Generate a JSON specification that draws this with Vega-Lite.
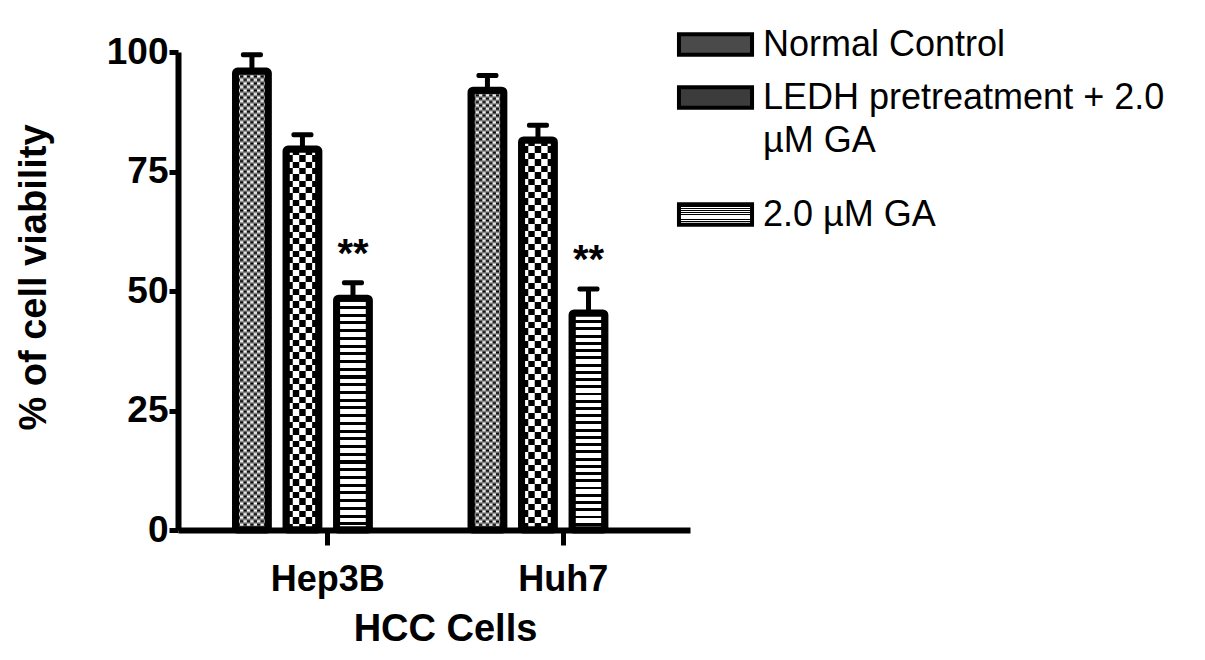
{
  "$schema": "https://vega.github.io/schema/vega-lite/v6.json",
  "width": 512,
  "height": 478,
  "autosize": {"type": "none"},
  "padding": {"left": 178, "top": 52, "right": 515, "bottom": 130},
  "background": "white",
  "config": {"view": {"stroke": null}, "font": "Liberation Sans"},
  "params": [
    {"name": "ncP", "value": {"gradient": "linear", "x1": 0, "y1": 0, "x2": 0, "y2": 1, "stops": [
        {"offset": 0.0038, "color": "#000"}, {"offset": 0.0115, "color": "#fff"}, {"offset": 0.0192, "color": "#000"}, {"offset": 0.0269, "color": "#fff"},
        {"offset": 0.0346, "color": "#000"}, {"offset": 0.0423, "color": "#fff"}, {"offset": 0.05, "color": "#000"}, {"offset": 0.0577, "color": "#fff"},
        {"offset": 0.0654, "color": "#000"}, {"offset": 0.0731, "color": "#fff"}, {"offset": 0.0808, "color": "#000"}, {"offset": 0.0885, "color": "#fff"},
        {"offset": 0.0962, "color": "#000"}, {"offset": 0.1038, "color": "#fff"}, {"offset": 0.1115, "color": "#000"}, {"offset": 0.1192, "color": "#fff"},
        {"offset": 0.1269, "color": "#000"}, {"offset": 0.1346, "color": "#fff"}, {"offset": 0.1423, "color": "#000"}, {"offset": 0.15, "color": "#fff"},
        {"offset": 0.1577, "color": "#000"}, {"offset": 0.1654, "color": "#fff"}, {"offset": 0.1731, "color": "#000"}, {"offset": 0.1808, "color": "#fff"},
        {"offset": 0.1885, "color": "#000"}, {"offset": 0.1962, "color": "#fff"}, {"offset": 0.2038, "color": "#000"}, {"offset": 0.2115, "color": "#fff"},
        {"offset": 0.2192, "color": "#000"}, {"offset": 0.2269, "color": "#fff"}, {"offset": 0.2346, "color": "#000"}, {"offset": 0.2423, "color": "#fff"},
        {"offset": 0.25, "color": "#000"}, {"offset": 0.2577, "color": "#fff"}, {"offset": 0.2654, "color": "#000"}, {"offset": 0.2731, "color": "#fff"},
        {"offset": 0.2808, "color": "#000"}, {"offset": 0.2885, "color": "#fff"}, {"offset": 0.2962, "color": "#000"}, {"offset": 0.3038, "color": "#fff"},
        {"offset": 0.3115, "color": "#000"}, {"offset": 0.3192, "color": "#fff"}, {"offset": 0.3269, "color": "#000"}, {"offset": 0.3346, "color": "#fff"},
        {"offset": 0.3423, "color": "#000"}, {"offset": 0.35, "color": "#fff"}, {"offset": 0.3577, "color": "#000"}, {"offset": 0.3654, "color": "#fff"},
        {"offset": 0.3731, "color": "#000"}, {"offset": 0.3808, "color": "#fff"}, {"offset": 0.3885, "color": "#000"}, {"offset": 0.3962, "color": "#fff"},
        {"offset": 0.4038, "color": "#000"}, {"offset": 0.4115, "color": "#fff"}, {"offset": 0.4192, "color": "#000"}, {"offset": 0.4269, "color": "#fff"},
        {"offset": 0.4346, "color": "#000"}, {"offset": 0.4423, "color": "#fff"}, {"offset": 0.45, "color": "#000"}, {"offset": 0.4577, "color": "#fff"},
        {"offset": 0.4654, "color": "#000"}, {"offset": 0.4731, "color": "#fff"}, {"offset": 0.4808, "color": "#000"}, {"offset": 0.4885, "color": "#fff"},
        {"offset": 0.4962, "color": "#000"}, {"offset": 0.5038, "color": "#fff"}, {"offset": 0.5115, "color": "#000"}, {"offset": 0.5192, "color": "#fff"},
        {"offset": 0.5269, "color": "#000"}, {"offset": 0.5346, "color": "#fff"}, {"offset": 0.5423, "color": "#000"}, {"offset": 0.55, "color": "#fff"},
        {"offset": 0.5577, "color": "#000"}, {"offset": 0.5654, "color": "#fff"}, {"offset": 0.5731, "color": "#000"}, {"offset": 0.5808, "color": "#fff"},
        {"offset": 0.5885, "color": "#000"}, {"offset": 0.5962, "color": "#fff"}, {"offset": 0.6038, "color": "#000"}, {"offset": 0.6115, "color": "#fff"},
        {"offset": 0.6192, "color": "#000"}, {"offset": 0.6269, "color": "#fff"}, {"offset": 0.6346, "color": "#000"}, {"offset": 0.6423, "color": "#fff"},
        {"offset": 0.65, "color": "#000"}, {"offset": 0.6577, "color": "#fff"}, {"offset": 0.6654, "color": "#000"}, {"offset": 0.6731, "color": "#fff"},
        {"offset": 0.6808, "color": "#000"}, {"offset": 0.6885, "color": "#fff"}, {"offset": 0.6962, "color": "#000"}, {"offset": 0.7038, "color": "#fff"},
        {"offset": 0.7115, "color": "#000"}, {"offset": 0.7192, "color": "#fff"}, {"offset": 0.7269, "color": "#000"}, {"offset": 0.7346, "color": "#fff"},
        {"offset": 0.7423, "color": "#000"}, {"offset": 0.75, "color": "#fff"}, {"offset": 0.7577, "color": "#000"}, {"offset": 0.7654, "color": "#fff"},
        {"offset": 0.7731, "color": "#000"}, {"offset": 0.7808, "color": "#fff"}, {"offset": 0.7885, "color": "#000"}, {"offset": 0.7962, "color": "#fff"},
        {"offset": 0.8038, "color": "#000"}, {"offset": 0.8115, "color": "#fff"}, {"offset": 0.8192, "color": "#000"}, {"offset": 0.8269, "color": "#fff"},
        {"offset": 0.8346, "color": "#000"}, {"offset": 0.8423, "color": "#fff"}, {"offset": 0.85, "color": "#000"}, {"offset": 0.8577, "color": "#fff"},
        {"offset": 0.8654, "color": "#000"}, {"offset": 0.8731, "color": "#fff"}, {"offset": 0.8808, "color": "#000"}, {"offset": 0.8885, "color": "#fff"},
        {"offset": 0.8962, "color": "#000"}, {"offset": 0.9038, "color": "#fff"}, {"offset": 0.9115, "color": "#000"}, {"offset": 0.9192, "color": "#fff"},
        {"offset": 0.9269, "color": "#000"}, {"offset": 0.9346, "color": "#fff"}, {"offset": 0.9423, "color": "#000"}, {"offset": 0.95, "color": "#fff"},
        {"offset": 0.9577, "color": "#000"}, {"offset": 0.9654, "color": "#fff"}, {"offset": 0.9731, "color": "#000"}, {"offset": 0.9808, "color": "#fff"},
        {"offset": 0.9885, "color": "#000"}, {"offset": 0.9962, "color": "#fff"}
    ]}},
    {"name": "ncN", "value": {"gradient": "linear", "x1": 0, "y1": 0, "x2": 0, "y2": 1, "stops": [
        {"offset": 0.0038, "color": "#fff"}, {"offset": 0.0115, "color": "#000"}, {"offset": 0.0192, "color": "#fff"}, {"offset": 0.0269, "color": "#000"},
        {"offset": 0.0346, "color": "#fff"}, {"offset": 0.0423, "color": "#000"}, {"offset": 0.05, "color": "#fff"}, {"offset": 0.0577, "color": "#000"},
        {"offset": 0.0654, "color": "#fff"}, {"offset": 0.0731, "color": "#000"}, {"offset": 0.0808, "color": "#fff"}, {"offset": 0.0885, "color": "#000"},
        {"offset": 0.0962, "color": "#fff"}, {"offset": 0.1038, "color": "#000"}, {"offset": 0.1115, "color": "#fff"}, {"offset": 0.1192, "color": "#000"},
        {"offset": 0.1269, "color": "#fff"}, {"offset": 0.1346, "color": "#000"}, {"offset": 0.1423, "color": "#fff"}, {"offset": 0.15, "color": "#000"},
        {"offset": 0.1577, "color": "#fff"}, {"offset": 0.1654, "color": "#000"}, {"offset": 0.1731, "color": "#fff"}, {"offset": 0.1808, "color": "#000"},
        {"offset": 0.1885, "color": "#fff"}, {"offset": 0.1962, "color": "#000"}, {"offset": 0.2038, "color": "#fff"}, {"offset": 0.2115, "color": "#000"},
        {"offset": 0.2192, "color": "#fff"}, {"offset": 0.2269, "color": "#000"}, {"offset": 0.2346, "color": "#fff"}, {"offset": 0.2423, "color": "#000"},
        {"offset": 0.25, "color": "#fff"}, {"offset": 0.2577, "color": "#000"}, {"offset": 0.2654, "color": "#fff"}, {"offset": 0.2731, "color": "#000"},
        {"offset": 0.2808, "color": "#fff"}, {"offset": 0.2885, "color": "#000"}, {"offset": 0.2962, "color": "#fff"}, {"offset": 0.3038, "color": "#000"},
        {"offset": 0.3115, "color": "#fff"}, {"offset": 0.3192, "color": "#000"}, {"offset": 0.3269, "color": "#fff"}, {"offset": 0.3346, "color": "#000"},
        {"offset": 0.3423, "color": "#fff"}, {"offset": 0.35, "color": "#000"}, {"offset": 0.3577, "color": "#fff"}, {"offset": 0.3654, "color": "#000"},
        {"offset": 0.3731, "color": "#fff"}, {"offset": 0.3808, "color": "#000"}, {"offset": 0.3885, "color": "#fff"}, {"offset": 0.3962, "color": "#000"},
        {"offset": 0.4038, "color": "#fff"}, {"offset": 0.4115, "color": "#000"}, {"offset": 0.4192, "color": "#fff"}, {"offset": 0.4269, "color": "#000"},
        {"offset": 0.4346, "color": "#fff"}, {"offset": 0.4423, "color": "#000"}, {"offset": 0.45, "color": "#fff"}, {"offset": 0.4577, "color": "#000"},
        {"offset": 0.4654, "color": "#fff"}, {"offset": 0.4731, "color": "#000"}, {"offset": 0.4808, "color": "#fff"}, {"offset": 0.4885, "color": "#000"},
        {"offset": 0.4962, "color": "#fff"}, {"offset": 0.5038, "color": "#000"}, {"offset": 0.5115, "color": "#fff"}, {"offset": 0.5192, "color": "#000"},
        {"offset": 0.5269, "color": "#fff"}, {"offset": 0.5346, "color": "#000"}, {"offset": 0.5423, "color": "#fff"}, {"offset": 0.55, "color": "#000"},
        {"offset": 0.5577, "color": "#fff"}, {"offset": 0.5654, "color": "#000"}, {"offset": 0.5731, "color": "#fff"}, {"offset": 0.5808, "color": "#000"},
        {"offset": 0.5885, "color": "#fff"}, {"offset": 0.5962, "color": "#000"}, {"offset": 0.6038, "color": "#fff"}, {"offset": 0.6115, "color": "#000"},
        {"offset": 0.6192, "color": "#fff"}, {"offset": 0.6269, "color": "#000"}, {"offset": 0.6346, "color": "#fff"}, {"offset": 0.6423, "color": "#000"},
        {"offset": 0.65, "color": "#fff"}, {"offset": 0.6577, "color": "#000"}, {"offset": 0.6654, "color": "#fff"}, {"offset": 0.6731, "color": "#000"},
        {"offset": 0.6808, "color": "#fff"}, {"offset": 0.6885, "color": "#000"}, {"offset": 0.6962, "color": "#fff"}, {"offset": 0.7038, "color": "#000"},
        {"offset": 0.7115, "color": "#fff"}, {"offset": 0.7192, "color": "#000"}, {"offset": 0.7269, "color": "#fff"}, {"offset": 0.7346, "color": "#000"},
        {"offset": 0.7423, "color": "#fff"}, {"offset": 0.75, "color": "#000"}, {"offset": 0.7577, "color": "#fff"}, {"offset": 0.7654, "color": "#000"},
        {"offset": 0.7731, "color": "#fff"}, {"offset": 0.7808, "color": "#000"}, {"offset": 0.7885, "color": "#fff"}, {"offset": 0.7962, "color": "#000"},
        {"offset": 0.8038, "color": "#fff"}, {"offset": 0.8115, "color": "#000"}, {"offset": 0.8192, "color": "#fff"}, {"offset": 0.8269, "color": "#000"},
        {"offset": 0.8346, "color": "#fff"}, {"offset": 0.8423, "color": "#000"}, {"offset": 0.85, "color": "#fff"}, {"offset": 0.8577, "color": "#000"},
        {"offset": 0.8654, "color": "#fff"}, {"offset": 0.8731, "color": "#000"}, {"offset": 0.8808, "color": "#fff"}, {"offset": 0.8885, "color": "#000"},
        {"offset": 0.8962, "color": "#fff"}, {"offset": 0.9038, "color": "#000"}, {"offset": 0.9115, "color": "#fff"}, {"offset": 0.9192, "color": "#000"},
        {"offset": 0.9269, "color": "#fff"}, {"offset": 0.9346, "color": "#000"}, {"offset": 0.9423, "color": "#fff"}, {"offset": 0.95, "color": "#000"},
        {"offset": 0.9577, "color": "#fff"}, {"offset": 0.9654, "color": "#000"}, {"offset": 0.9731, "color": "#fff"}, {"offset": 0.9808, "color": "#000"},
        {"offset": 0.9885, "color": "#fff"}, {"offset": 0.9962, "color": "#000"}
    ]}}
  ],
  "data": {
    "values": [
      {"cell": "Hep3B", "treatment": "Normal Control", "mean": 96.0, "upper": 99.4, "star": ""},
      {"cell": "Hep3B", "treatment": "LEDH pretreatment + 2.0 µM GA", "mean": 79.7, "upper": 82.7, "star": ""},
      {"cell": "Hep3B", "treatment": "2.0 µM GA", "mean": 48.5, "upper": 51.7, "star": "**"},
      {"cell": "Huh7", "treatment": "Normal Control", "mean": 92.0, "upper": 95.1, "star": ""},
      {"cell": "Huh7", "treatment": "LEDH pretreatment + 2.0 µM GA", "mean": 81.6, "upper": 84.7, "star": ""},
      {"cell": "Huh7", "treatment": "2.0 µM GA", "mean": 45.4, "upper": 50.4, "star": "**"}
    ]
  },
  "encoding": {
    "x": {
      "field": "cell", "type": "nominal", "sort": ["Hep3B", "Huh7"],
      "scale": {"paddingInner": 0.142, "paddingOuter": 0.158, "align": 0.654},
      "axis": {
        "title": "HCC Cells", "labelAngle": 0, "domainWidth": 6, "domainColor": "black",
        "tickWidth": 5, "tickSize": 15, "tickColor": "black",
        "labelFontSize": 36, "labelFontWeight": "bold", "labelColor": "black", "labelPadding": 17,
        "titleFontSize": 38, "titleFontWeight": "bold", "titleColor": "black", "titlePadding": 13, "titleX": 267
      }
    },
    "xOffset": {
      "field": "treatment", "type": "nominal",
      "scale": {"domain": ["Normal Control", "LEDH pretreatment + 2.0 µM GA", "2.0 µM GA", "pad"], "paddingInner": 0.35, "paddingOuter": 0.175}
    }
  },
  "layer": [
    {
      "mark": {"type": "bar", "cornerRadius": 2},
      "encoding": {
        "y": {
          "field": "mean", "type": "quantitative", "scale": {"domain": [0, 100]},
          "axis": {
            "title": "% of cell viability", "values": [0, 25, 50, 75, 100], "grid": false,
            "domainWidth": 6, "domainColor": "black", "tickColor": "black", "tickWidth": 5, "tickSize": 9,
            "labelFontSize": 37, "labelFontWeight": "bold", "labelColor": "black", "labelPadding": 1,
            "titleFontSize": 38, "titleFontWeight": "bold", "titleColor": "black", "titlePadding": 53, "titleY": 225
          }
        },
        "fill": {
          "field": "treatment", "type": "nominal",
          "scale": {"domain": ["Normal Control", "LEDH pretreatment + 2.0 µM GA", "2.0 µM GA"], "range": ["#4a4a4a", "#3c3c3c", "#000000"]},
          "legend": {
            "title": null, "orient": "none", "legendX": 515, "legendY": -30, "padding": 0,
            "values": ["Normal Control", "LEDH pretreatment + 2.0 µM GA"],
            "symbolType": "M-1.8,-0.5H1.8V0.5H-1.8Z", "symbolSize": 1648,
            "symbolStrokeColor": "black", "symbolStrokeWidth": 4, "symbolOpacity": 1,
            "labelFontSize": 36, "labelFont": "Liberation Sans", "labelColor": "black",
            "labelOffset": 25, "rowPadding": 12, "labelLimit": 700,
            "labelExpr": "datum.label === 'LEDH pretreatment + 2.0 µM GA' ? ['LEDH pretreatment + 2.0', 'µM GA'] : datum.label",
            "encode": {
              "labels": {"update": {"lineHeight": {"value": 43}}},
              "symbols": {"update": {"stroke": {"value": "black"}, "strokeWidth": {"value": 4}}}
            }
          }
        }
      }
    },
    {
      "transform": [{"filter": "datum.treatment === 'Normal Control'"}],
      "mark": {"type": "bar", "fill": "#858585"},
      "encoding": {"y": {"field": "mean", "type": "quantitative"}}
    },
    {
      "transform": [{"filter": "datum.treatment === 'Normal Control'"}],
      "mark": {"type": "bar", "fill": {"expr": "ncP"}},
      "encoding": {"y": {"field": "mean", "type": "quantitative"}}
    },
    {
      "transform": [{"filter": "datum.treatment === 'Normal Control'"}],
      "mark": {"type": "bar", "fill": {"expr": "ncN"}, "width": 23.8},
      "encoding": {"y": {"field": "mean", "type": "quantitative"}}
    },
    {
      "transform": [{"filter": "datum.treatment === 'Normal Control'"}],
      "mark": {"type": "bar", "fill": {"expr": "ncP"}, "width": 17},
      "encoding": {"y": {"field": "mean", "type": "quantitative"}}
    },
    {
      "transform": [{"filter": "datum.treatment === 'Normal Control'"}],
      "mark": {"type": "bar", "fill": {"expr": "ncN"}, "width": 10.2},
      "encoding": {"y": {"field": "mean", "type": "quantitative"}}
    },
    {
      "transform": [{"filter": "datum.treatment === 'Normal Control'"}],
      "mark": {"type": "bar", "fill": {"expr": "ncP"}, "width": 3.4},
      "encoding": {"y": {"field": "mean", "type": "quantitative"}}
    },
    {
      "transform": [{"filter": "datum.treatment === 'LEDH pretreatment + 2.0 µM GA'"}],
      "mark": {
        "type": "bar",
        "fill": {"gradient": "linear", "x1": 0, "y1": 0, "x2": 0, "y2": 1, "stops": [
          {"offset": 0, "color": "#fff"}, {"offset": 0.0167, "color": "#fff"}, {"offset": 0.0167, "color": "#000"}, {"offset": 0.0333, "color": "#000"},
          {"offset": 0.0333, "color": "#fff"}, {"offset": 0.05, "color": "#fff"}, {"offset": 0.05, "color": "#000"}, {"offset": 0.0667, "color": "#000"},
          {"offset": 0.0667, "color": "#fff"}, {"offset": 0.0833, "color": "#fff"}, {"offset": 0.0833, "color": "#000"}, {"offset": 0.1, "color": "#000"},
          {"offset": 0.1, "color": "#fff"}, {"offset": 0.1167, "color": "#fff"}, {"offset": 0.1167, "color": "#000"}, {"offset": 0.1333, "color": "#000"},
          {"offset": 0.1333, "color": "#fff"}, {"offset": 0.15, "color": "#fff"}, {"offset": 0.15, "color": "#000"}, {"offset": 0.1667, "color": "#000"},
          {"offset": 0.1667, "color": "#fff"}, {"offset": 0.1833, "color": "#fff"}, {"offset": 0.1833, "color": "#000"}, {"offset": 0.2, "color": "#000"},
          {"offset": 0.2, "color": "#fff"}, {"offset": 0.2167, "color": "#fff"}, {"offset": 0.2167, "color": "#000"}, {"offset": 0.2333, "color": "#000"},
          {"offset": 0.2333, "color": "#fff"}, {"offset": 0.25, "color": "#fff"}, {"offset": 0.25, "color": "#000"}, {"offset": 0.2667, "color": "#000"},
          {"offset": 0.2667, "color": "#fff"}, {"offset": 0.2833, "color": "#fff"}, {"offset": 0.2833, "color": "#000"}, {"offset": 0.3, "color": "#000"},
          {"offset": 0.3, "color": "#fff"}, {"offset": 0.3167, "color": "#fff"}, {"offset": 0.3167, "color": "#000"}, {"offset": 0.3333, "color": "#000"},
          {"offset": 0.3333, "color": "#fff"}, {"offset": 0.35, "color": "#fff"}, {"offset": 0.35, "color": "#000"}, {"offset": 0.3667, "color": "#000"},
          {"offset": 0.3667, "color": "#fff"}, {"offset": 0.3833, "color": "#fff"}, {"offset": 0.3833, "color": "#000"}, {"offset": 0.4, "color": "#000"},
          {"offset": 0.4, "color": "#fff"}, {"offset": 0.4167, "color": "#fff"}, {"offset": 0.4167, "color": "#000"}, {"offset": 0.4333, "color": "#000"},
          {"offset": 0.4333, "color": "#fff"}, {"offset": 0.45, "color": "#fff"}, {"offset": 0.45, "color": "#000"}, {"offset": 0.4667, "color": "#000"},
          {"offset": 0.4667, "color": "#fff"}, {"offset": 0.4833, "color": "#fff"}, {"offset": 0.4833, "color": "#000"}, {"offset": 0.5, "color": "#000"},
          {"offset": 0.5, "color": "#fff"}, {"offset": 0.5167, "color": "#fff"}, {"offset": 0.5167, "color": "#000"}, {"offset": 0.5333, "color": "#000"},
          {"offset": 0.5333, "color": "#fff"}, {"offset": 0.55, "color": "#fff"}, {"offset": 0.55, "color": "#000"}, {"offset": 0.5667, "color": "#000"},
          {"offset": 0.5667, "color": "#fff"}, {"offset": 0.5833, "color": "#fff"}, {"offset": 0.5833, "color": "#000"}, {"offset": 0.6, "color": "#000"},
          {"offset": 0.6, "color": "#fff"}, {"offset": 0.6167, "color": "#fff"}, {"offset": 0.6167, "color": "#000"}, {"offset": 0.6333, "color": "#000"},
          {"offset": 0.6333, "color": "#fff"}, {"offset": 0.65, "color": "#fff"}, {"offset": 0.65, "color": "#000"}, {"offset": 0.6667, "color": "#000"},
          {"offset": 0.6667, "color": "#fff"}, {"offset": 0.6833, "color": "#fff"}, {"offset": 0.6833, "color": "#000"}, {"offset": 0.7, "color": "#000"},
          {"offset": 0.7, "color": "#fff"}, {"offset": 0.7167, "color": "#fff"}, {"offset": 0.7167, "color": "#000"}, {"offset": 0.7333, "color": "#000"},
          {"offset": 0.7333, "color": "#fff"}, {"offset": 0.75, "color": "#fff"}, {"offset": 0.75, "color": "#000"}, {"offset": 0.7667, "color": "#000"},
          {"offset": 0.7667, "color": "#fff"}, {"offset": 0.7833, "color": "#fff"}, {"offset": 0.7833, "color": "#000"}, {"offset": 0.8, "color": "#000"},
          {"offset": 0.8, "color": "#fff"}, {"offset": 0.8167, "color": "#fff"}, {"offset": 0.8167, "color": "#000"}, {"offset": 0.8333, "color": "#000"},
          {"offset": 0.8333, "color": "#fff"}, {"offset": 0.85, "color": "#fff"}, {"offset": 0.85, "color": "#000"}, {"offset": 0.8667, "color": "#000"},
          {"offset": 0.8667, "color": "#fff"}, {"offset": 0.8833, "color": "#fff"}, {"offset": 0.8833, "color": "#000"}, {"offset": 0.9, "color": "#000"},
          {"offset": 0.9, "color": "#fff"}, {"offset": 0.9167, "color": "#fff"}, {"offset": 0.9167, "color": "#000"}, {"offset": 0.9333, "color": "#000"},
          {"offset": 0.9333, "color": "#fff"}, {"offset": 0.95, "color": "#fff"}, {"offset": 0.95, "color": "#000"}, {"offset": 0.9667, "color": "#000"},
          {"offset": 0.9667, "color": "#fff"}, {"offset": 0.9833, "color": "#fff"}, {"offset": 0.9833, "color": "#000"}, {"offset": 1, "color": "#000"}
        ]}
      },
      "encoding": {"y": {"field": "mean", "type": "quantitative"}}
    },
    {
      "transform": [{"filter": "datum.treatment === 'LEDH pretreatment + 2.0 µM GA'"}],
      "mark": {
        "type": "bar", "width": 19.35,
        "fill": {"gradient": "linear", "x1": 0, "y1": 0, "x2": 0, "y2": 1, "stops": [
          {"offset": 0, "color": "#000"}, {"offset": 0.0167, "color": "#000"}, {"offset": 0.0167, "color": "#fff"}, {"offset": 0.0333, "color": "#fff"},
          {"offset": 0.0333, "color": "#000"}, {"offset": 0.05, "color": "#000"}, {"offset": 0.05, "color": "#fff"}, {"offset": 0.0667, "color": "#fff"},
          {"offset": 0.0667, "color": "#000"}, {"offset": 0.0833, "color": "#000"}, {"offset": 0.0833, "color": "#fff"}, {"offset": 0.1, "color": "#fff"},
          {"offset": 0.1, "color": "#000"}, {"offset": 0.1167, "color": "#000"}, {"offset": 0.1167, "color": "#fff"}, {"offset": 0.1333, "color": "#fff"},
          {"offset": 0.1333, "color": "#000"}, {"offset": 0.15, "color": "#000"}, {"offset": 0.15, "color": "#fff"}, {"offset": 0.1667, "color": "#fff"},
          {"offset": 0.1667, "color": "#000"}, {"offset": 0.1833, "color": "#000"}, {"offset": 0.1833, "color": "#fff"}, {"offset": 0.2, "color": "#fff"},
          {"offset": 0.2, "color": "#000"}, {"offset": 0.2167, "color": "#000"}, {"offset": 0.2167, "color": "#fff"}, {"offset": 0.2333, "color": "#fff"},
          {"offset": 0.2333, "color": "#000"}, {"offset": 0.25, "color": "#000"}, {"offset": 0.25, "color": "#fff"}, {"offset": 0.2667, "color": "#fff"},
          {"offset": 0.2667, "color": "#000"}, {"offset": 0.2833, "color": "#000"}, {"offset": 0.2833, "color": "#fff"}, {"offset": 0.3, "color": "#fff"},
          {"offset": 0.3, "color": "#000"}, {"offset": 0.3167, "color": "#000"}, {"offset": 0.3167, "color": "#fff"}, {"offset": 0.3333, "color": "#fff"},
          {"offset": 0.3333, "color": "#000"}, {"offset": 0.35, "color": "#000"}, {"offset": 0.35, "color": "#fff"}, {"offset": 0.3667, "color": "#fff"},
          {"offset": 0.3667, "color": "#000"}, {"offset": 0.3833, "color": "#000"}, {"offset": 0.3833, "color": "#fff"}, {"offset": 0.4, "color": "#fff"},
          {"offset": 0.4, "color": "#000"}, {"offset": 0.4167, "color": "#000"}, {"offset": 0.4167, "color": "#fff"}, {"offset": 0.4333, "color": "#fff"},
          {"offset": 0.4333, "color": "#000"}, {"offset": 0.45, "color": "#000"}, {"offset": 0.45, "color": "#fff"}, {"offset": 0.4667, "color": "#fff"},
          {"offset": 0.4667, "color": "#000"}, {"offset": 0.4833, "color": "#000"}, {"offset": 0.4833, "color": "#fff"}, {"offset": 0.5, "color": "#fff"},
          {"offset": 0.5, "color": "#000"}, {"offset": 0.5167, "color": "#000"}, {"offset": 0.5167, "color": "#fff"}, {"offset": 0.5333, "color": "#fff"},
          {"offset": 0.5333, "color": "#000"}, {"offset": 0.55, "color": "#000"}, {"offset": 0.55, "color": "#fff"}, {"offset": 0.5667, "color": "#fff"},
          {"offset": 0.5667, "color": "#000"}, {"offset": 0.5833, "color": "#000"}, {"offset": 0.5833, "color": "#fff"}, {"offset": 0.6, "color": "#fff"},
          {"offset": 0.6, "color": "#000"}, {"offset": 0.6167, "color": "#000"}, {"offset": 0.6167, "color": "#fff"}, {"offset": 0.6333, "color": "#fff"},
          {"offset": 0.6333, "color": "#000"}, {"offset": 0.65, "color": "#000"}, {"offset": 0.65, "color": "#fff"}, {"offset": 0.6667, "color": "#fff"},
          {"offset": 0.6667, "color": "#000"}, {"offset": 0.6833, "color": "#000"}, {"offset": 0.6833, "color": "#fff"}, {"offset": 0.7, "color": "#fff"},
          {"offset": 0.7, "color": "#000"}, {"offset": 0.7167, "color": "#000"}, {"offset": 0.7167, "color": "#fff"}, {"offset": 0.7333, "color": "#fff"},
          {"offset": 0.7333, "color": "#000"}, {"offset": 0.75, "color": "#000"}, {"offset": 0.75, "color": "#fff"}, {"offset": 0.7667, "color": "#fff"},
          {"offset": 0.7667, "color": "#000"}, {"offset": 0.7833, "color": "#000"}, {"offset": 0.7833, "color": "#fff"}, {"offset": 0.8, "color": "#fff"},
          {"offset": 0.8, "color": "#000"}, {"offset": 0.8167, "color": "#000"}, {"offset": 0.8167, "color": "#fff"}, {"offset": 0.8333, "color": "#fff"},
          {"offset": 0.8333, "color": "#000"}, {"offset": 0.85, "color": "#000"}, {"offset": 0.85, "color": "#fff"}, {"offset": 0.8667, "color": "#fff"},
          {"offset": 0.8667, "color": "#000"}, {"offset": 0.8833, "color": "#000"}, {"offset": 0.8833, "color": "#fff"}, {"offset": 0.9, "color": "#fff"},
          {"offset": 0.9, "color": "#000"}, {"offset": 0.9167, "color": "#000"}, {"offset": 0.9167, "color": "#fff"}, {"offset": 0.9333, "color": "#fff"},
          {"offset": 0.9333, "color": "#000"}, {"offset": 0.95, "color": "#000"}, {"offset": 0.95, "color": "#fff"}, {"offset": 0.9667, "color": "#fff"},
          {"offset": 0.9667, "color": "#000"}, {"offset": 0.9833, "color": "#000"}, {"offset": 0.9833, "color": "#fff"}, {"offset": 1, "color": "#fff"}
        ]}
      },
      "encoding": {"y": {"field": "mean", "type": "quantitative"}}
    },
    {
      "transform": [{"filter": "datum.treatment === 'LEDH pretreatment + 2.0 µM GA'"}],
      "mark": {
        "type": "bar", "width": 6.45,
        "fill": {"gradient": "linear", "x1": 0, "y1": 0, "x2": 0, "y2": 1, "stops": [
          {"offset": 0, "color": "#fff"}, {"offset": 0.0167, "color": "#fff"}, {"offset": 0.0167, "color": "#000"}, {"offset": 0.0333, "color": "#000"},
          {"offset": 0.0333, "color": "#fff"}, {"offset": 0.05, "color": "#fff"}, {"offset": 0.05, "color": "#000"}, {"offset": 0.0667, "color": "#000"},
          {"offset": 0.0667, "color": "#fff"}, {"offset": 0.0833, "color": "#fff"}, {"offset": 0.0833, "color": "#000"}, {"offset": 0.1, "color": "#000"},
          {"offset": 0.1, "color": "#fff"}, {"offset": 0.1167, "color": "#fff"}, {"offset": 0.1167, "color": "#000"}, {"offset": 0.1333, "color": "#000"},
          {"offset": 0.1333, "color": "#fff"}, {"offset": 0.15, "color": "#fff"}, {"offset": 0.15, "color": "#000"}, {"offset": 0.1667, "color": "#000"},
          {"offset": 0.1667, "color": "#fff"}, {"offset": 0.1833, "color": "#fff"}, {"offset": 0.1833, "color": "#000"}, {"offset": 0.2, "color": "#000"},
          {"offset": 0.2, "color": "#fff"}, {"offset": 0.2167, "color": "#fff"}, {"offset": 0.2167, "color": "#000"}, {"offset": 0.2333, "color": "#000"},
          {"offset": 0.2333, "color": "#fff"}, {"offset": 0.25, "color": "#fff"}, {"offset": 0.25, "color": "#000"}, {"offset": 0.2667, "color": "#000"},
          {"offset": 0.2667, "color": "#fff"}, {"offset": 0.2833, "color": "#fff"}, {"offset": 0.2833, "color": "#000"}, {"offset": 0.3, "color": "#000"},
          {"offset": 0.3, "color": "#fff"}, {"offset": 0.3167, "color": "#fff"}, {"offset": 0.3167, "color": "#000"}, {"offset": 0.3333, "color": "#000"},
          {"offset": 0.3333, "color": "#fff"}, {"offset": 0.35, "color": "#fff"}, {"offset": 0.35, "color": "#000"}, {"offset": 0.3667, "color": "#000"},
          {"offset": 0.3667, "color": "#fff"}, {"offset": 0.3833, "color": "#fff"}, {"offset": 0.3833, "color": "#000"}, {"offset": 0.4, "color": "#000"},
          {"offset": 0.4, "color": "#fff"}, {"offset": 0.4167, "color": "#fff"}, {"offset": 0.4167, "color": "#000"}, {"offset": 0.4333, "color": "#000"},
          {"offset": 0.4333, "color": "#fff"}, {"offset": 0.45, "color": "#fff"}, {"offset": 0.45, "color": "#000"}, {"offset": 0.4667, "color": "#000"},
          {"offset": 0.4667, "color": "#fff"}, {"offset": 0.4833, "color": "#fff"}, {"offset": 0.4833, "color": "#000"}, {"offset": 0.5, "color": "#000"},
          {"offset": 0.5, "color": "#fff"}, {"offset": 0.5167, "color": "#fff"}, {"offset": 0.5167, "color": "#000"}, {"offset": 0.5333, "color": "#000"},
          {"offset": 0.5333, "color": "#fff"}, {"offset": 0.55, "color": "#fff"}, {"offset": 0.55, "color": "#000"}, {"offset": 0.5667, "color": "#000"},
          {"offset": 0.5667, "color": "#fff"}, {"offset": 0.5833, "color": "#fff"}, {"offset": 0.5833, "color": "#000"}, {"offset": 0.6, "color": "#000"},
          {"offset": 0.6, "color": "#fff"}, {"offset": 0.6167, "color": "#fff"}, {"offset": 0.6167, "color": "#000"}, {"offset": 0.6333, "color": "#000"},
          {"offset": 0.6333, "color": "#fff"}, {"offset": 0.65, "color": "#fff"}, {"offset": 0.65, "color": "#000"}, {"offset": 0.6667, "color": "#000"},
          {"offset": 0.6667, "color": "#fff"}, {"offset": 0.6833, "color": "#fff"}, {"offset": 0.6833, "color": "#000"}, {"offset": 0.7, "color": "#000"},
          {"offset": 0.7, "color": "#fff"}, {"offset": 0.7167, "color": "#fff"}, {"offset": 0.7167, "color": "#000"}, {"offset": 0.7333, "color": "#000"},
          {"offset": 0.7333, "color": "#fff"}, {"offset": 0.75, "color": "#fff"}, {"offset": 0.75, "color": "#000"}, {"offset": 0.7667, "color": "#000"},
          {"offset": 0.7667, "color": "#fff"}, {"offset": 0.7833, "color": "#fff"}, {"offset": 0.7833, "color": "#000"}, {"offset": 0.8, "color": "#000"},
          {"offset": 0.8, "color": "#fff"}, {"offset": 0.8167, "color": "#fff"}, {"offset": 0.8167, "color": "#000"}, {"offset": 0.8333, "color": "#000"},
          {"offset": 0.8333, "color": "#fff"}, {"offset": 0.85, "color": "#fff"}, {"offset": 0.85, "color": "#000"}, {"offset": 0.8667, "color": "#000"},
          {"offset": 0.8667, "color": "#fff"}, {"offset": 0.8833, "color": "#fff"}, {"offset": 0.8833, "color": "#000"}, {"offset": 0.9, "color": "#000"},
          {"offset": 0.9, "color": "#fff"}, {"offset": 0.9167, "color": "#fff"}, {"offset": 0.9167, "color": "#000"}, {"offset": 0.9333, "color": "#000"},
          {"offset": 0.9333, "color": "#fff"}, {"offset": 0.95, "color": "#fff"}, {"offset": 0.95, "color": "#000"}, {"offset": 0.9667, "color": "#000"},
          {"offset": 0.9667, "color": "#fff"}, {"offset": 0.9833, "color": "#fff"}, {"offset": 0.9833, "color": "#000"}, {"offset": 1, "color": "#000"}
        ]}
      },
      "encoding": {"y": {"field": "mean", "type": "quantitative"}}
    },
    {
      "transform": [{"filter": "datum.treatment === '2.0 µM GA'"}],
      "mark": {
        "type": "bar", "cornerRadius": 2, "strokeWidth": 0,
        "fill": {"gradient": "linear", "x1": 0, "y1": 0, "x2": 0, "y2": 1, "stops": [
          {"offset": 0, "color": "#000"}, {"offset": 0.0133, "color": "#000"}, {"offset": 0.0133, "color": "#fff"}, {"offset": 0.0333, "color": "#fff"},
          {"offset": 0.0333, "color": "#000"}, {"offset": 0.0467, "color": "#000"}, {"offset": 0.0467, "color": "#fff"}, {"offset": 0.0667, "color": "#fff"},
          {"offset": 0.0667, "color": "#000"}, {"offset": 0.08, "color": "#000"}, {"offset": 0.08, "color": "#fff"}, {"offset": 0.1, "color": "#fff"},
          {"offset": 0.1, "color": "#000"}, {"offset": 0.1133, "color": "#000"}, {"offset": 0.1133, "color": "#fff"}, {"offset": 0.1333, "color": "#fff"},
          {"offset": 0.1333, "color": "#000"}, {"offset": 0.1467, "color": "#000"}, {"offset": 0.1467, "color": "#fff"}, {"offset": 0.1667, "color": "#fff"},
          {"offset": 0.1667, "color": "#000"}, {"offset": 0.18, "color": "#000"}, {"offset": 0.18, "color": "#fff"}, {"offset": 0.2, "color": "#fff"},
          {"offset": 0.2, "color": "#000"}, {"offset": 0.2133, "color": "#000"}, {"offset": 0.2133, "color": "#fff"}, {"offset": 0.2333, "color": "#fff"},
          {"offset": 0.2333, "color": "#000"}, {"offset": 0.2467, "color": "#000"}, {"offset": 0.2467, "color": "#fff"}, {"offset": 0.2667, "color": "#fff"},
          {"offset": 0.2667, "color": "#000"}, {"offset": 0.28, "color": "#000"}, {"offset": 0.28, "color": "#fff"}, {"offset": 0.3, "color": "#fff"},
          {"offset": 0.3, "color": "#000"}, {"offset": 0.3133, "color": "#000"}, {"offset": 0.3133, "color": "#fff"}, {"offset": 0.3333, "color": "#fff"},
          {"offset": 0.3333, "color": "#000"}, {"offset": 0.3467, "color": "#000"}, {"offset": 0.3467, "color": "#fff"}, {"offset": 0.3667, "color": "#fff"},
          {"offset": 0.3667, "color": "#000"}, {"offset": 0.38, "color": "#000"}, {"offset": 0.38, "color": "#fff"}, {"offset": 0.4, "color": "#fff"},
          {"offset": 0.4, "color": "#000"}, {"offset": 0.4133, "color": "#000"}, {"offset": 0.4133, "color": "#fff"}, {"offset": 0.4333, "color": "#fff"},
          {"offset": 0.4333, "color": "#000"}, {"offset": 0.4467, "color": "#000"}, {"offset": 0.4467, "color": "#fff"}, {"offset": 0.4667, "color": "#fff"},
          {"offset": 0.4667, "color": "#000"}, {"offset": 0.48, "color": "#000"}, {"offset": 0.48, "color": "#fff"}, {"offset": 0.5, "color": "#fff"},
          {"offset": 0.5, "color": "#000"}, {"offset": 0.5133, "color": "#000"}, {"offset": 0.5133, "color": "#fff"}, {"offset": 0.5333, "color": "#fff"},
          {"offset": 0.5333, "color": "#000"}, {"offset": 0.5467, "color": "#000"}, {"offset": 0.5467, "color": "#fff"}, {"offset": 0.5667, "color": "#fff"},
          {"offset": 0.5667, "color": "#000"}, {"offset": 0.58, "color": "#000"}, {"offset": 0.58, "color": "#fff"}, {"offset": 0.6, "color": "#fff"},
          {"offset": 0.6, "color": "#000"}, {"offset": 0.6133, "color": "#000"}, {"offset": 0.6133, "color": "#fff"}, {"offset": 0.6333, "color": "#fff"},
          {"offset": 0.6333, "color": "#000"}, {"offset": 0.6467, "color": "#000"}, {"offset": 0.6467, "color": "#fff"}, {"offset": 0.6667, "color": "#fff"},
          {"offset": 0.6667, "color": "#000"}, {"offset": 0.68, "color": "#000"}, {"offset": 0.68, "color": "#fff"}, {"offset": 0.7, "color": "#fff"},
          {"offset": 0.7, "color": "#000"}, {"offset": 0.7133, "color": "#000"}, {"offset": 0.7133, "color": "#fff"}, {"offset": 0.7333, "color": "#fff"},
          {"offset": 0.7333, "color": "#000"}, {"offset": 0.7467, "color": "#000"}, {"offset": 0.7467, "color": "#fff"}, {"offset": 0.7667, "color": "#fff"},
          {"offset": 0.7667, "color": "#000"}, {"offset": 0.78, "color": "#000"}, {"offset": 0.78, "color": "#fff"}, {"offset": 0.8, "color": "#fff"},
          {"offset": 0.8, "color": "#000"}, {"offset": 0.8133, "color": "#000"}, {"offset": 0.8133, "color": "#fff"}, {"offset": 0.8333, "color": "#fff"},
          {"offset": 0.8333, "color": "#000"}, {"offset": 0.8467, "color": "#000"}, {"offset": 0.8467, "color": "#fff"}, {"offset": 0.8667, "color": "#fff"},
          {"offset": 0.8667, "color": "#000"}, {"offset": 0.88, "color": "#000"}, {"offset": 0.88, "color": "#fff"}, {"offset": 0.9, "color": "#fff"},
          {"offset": 0.9, "color": "#000"}, {"offset": 0.9133, "color": "#000"}, {"offset": 0.9133, "color": "#fff"}, {"offset": 0.9333, "color": "#fff"},
          {"offset": 0.9333, "color": "#000"}, {"offset": 0.9467, "color": "#000"}, {"offset": 0.9467, "color": "#fff"}, {"offset": 0.9667, "color": "#fff"},
          {"offset": 0.9667, "color": "#000"}, {"offset": 0.98, "color": "#000"}, {"offset": 0.98, "color": "#fff"}, {"offset": 1, "color": "#fff"}
        ]}
      },
      "encoding": {
        "y": {"field": "mean", "type": "quantitative"},
        "stroke": {
          "field": "treatment", "type": "nominal",
          "scale": {"domain": ["2.0 µM GA"], "range": ["black"]},
          "legend": {
            "title": null, "orient": "none", "legendX": 515, "legendY": 140, "padding": 0,
            "symbolType": "M-1.8,-0.5H1.8V0.5H-1.8Z", "symbolSize": 1648,
            "symbolStrokeColor": "black", "symbolStrokeWidth": 4, "symbolOpacity": 1,
            "labelFontSize": 36, "labelFont": "Liberation Sans", "labelColor": "black",
            "labelOffset": 25, "labelLimit": 700,
            "encode": {
              "symbols": {"update": {"stroke": {"value": "black"}, "strokeWidth": {"value": 4}}}
            }
          }
        }
      }
    },
    {
      "mark": {"type": "bar", "cornerRadius": 2, "fillOpacity": 0, "stroke": "black", "strokeWidth": 7},
      "encoding": {"y": {"field": "mean", "type": "quantitative"}}
    },
    {
      "mark": {"type": "rule", "strokeWidth": 5, "color": "black"},
      "encoding": {"y": {"field": "mean", "type": "quantitative"}, "y2": {"field": "upper"}}
    },
    {
      "mark": {"type": "tick", "thickness": 5, "size": 22, "color": "black", "opacity": 1, "cornerRadius": 2},
      "encoding": {"y": {"field": "upper", "type": "quantitative"}}
    },
    {
      "transform": [{"filter": "datum.star !== ''"}],
      "mark": {"type": "text", "fontSize": 40, "fontWeight": "bold", "baseline": "alphabetic", "dy": -16, "color": "black"},
      "encoding": {"y": {"field": "upper", "type": "quantitative"}, "text": {"field": "star"}}
    }
  ]
}
